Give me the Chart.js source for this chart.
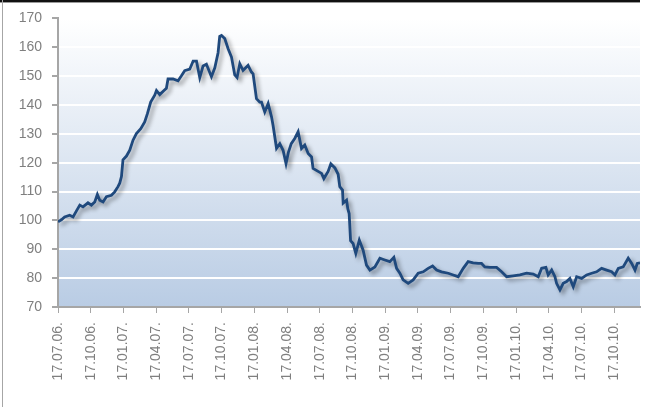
<!DOCTYPE html>
<html>
<head>
<meta charset="utf-8">
<script src="https://cdn.jsdelivr.net/npm/chart.js@4"></script>
<style>
html,body{margin:0;padding:0;background:#fff;}
#wrap{width:646px;height:407px;position:relative;}
</style>
</head>
<body>
<div id="wrap"><canvas id="c" width="646" height="407"></canvas></div>
<script>
// Tick labels (quarterly, starting 17.07.06)
const tickLabels = ["17.07.06.","17.10.06.","17.01.07.","17.04.07.","17.07.07.","17.10.07.","17.01.08.","17.04.08.","17.07.08.","17.10.08.","17.01.09.","17.04.09.","17.07.09.","17.10.09.","17.01.10.","17.04.10.","17.07.10.","17.10.10."];
// time in months since 17.07.06
const months = [0,0.34,0.61,1.07,1.38,1.72,2.0,2.29,2.75,3.06,3.37,3.61,3.83,4.13,4.44,4.9,5.2,5.5,5.66,5.82,5.96,6.28,6.58,6.88,7.19,7.59,7.95,8.2,8.5,8.87,9.03,9.33,9.72,9.94,10.09,10.55,11.01,11.32,11.62,12.08,12.39,12.7,13.0,13.3,13.61,14.07,14.38,14.68,14.83,14.99,15.29,15.6,15.91,16.21,16.42,16.67,16.97,17.43,17.74,17.89,18.2,18.5,18.66,18.96,19.27,19.58,19.72,20.04,20.34,20.64,20.91,21.12,21.39,21.71,22.02,22.33,22.63,22.94,23.25,23.39,23.85,24.17,24.38,24.77,25.02,25.39,25.69,25.84,26.09,26.15,26.46,26.58,26.7,26.83,27.06,27.31,27.63,27.98,28.29,28.6,29.06,29.52,29.97,30.43,30.8,31.05,31.35,31.65,32.11,32.57,33.03,33.49,33.94,34.35,34.72,35.17,35.78,36.24,36.7,37.16,37.61,38.07,38.53,38.84,39.14,39.6,40.22,40.68,41.14,41.74,42.36,42.97,43.58,44.04,44.35,44.74,44.95,45.27,45.57,45.72,46.03,46.33,46.64,46.94,47.25,47.56,48.02,48.48,48.94,49.39,49.85,50.31,50.77,51.07,51.38,51.83,52.29,52.61,52.91,53.12,53.37];
const values = [99.5,100.3,101.2,101.8,101.2,103.5,105.3,104.7,106.1,105.3,106.4,109,107,106.4,108.2,108.7,109.9,111.7,112.9,115.2,121,122.3,124.3,127.8,130.1,131.8,134.1,137,141,143.4,145,143.6,145,145.8,149,149,148.4,150.1,151.9,152.4,155.2,155.2,149.5,153.5,154.1,149.8,152.9,158.1,163.8,164.1,163,159.5,156.6,150.4,149.5,154.3,152,153.7,151.4,150.8,142.2,141,141,137.6,140.5,135.9,133,125,126.6,124.3,119.7,123.5,126.6,128.4,130.7,124.9,126.1,123.2,122,118,117,116.3,114.5,117,119.6,118.2,116,111.7,110.5,106,107,104,102.4,93,92,88.6,93.2,89.7,84.5,82.8,83.9,86.9,86.3,85.7,87.2,83.4,81.7,79.4,78.2,79.4,81.7,82.2,83.4,84.2,82.8,82.2,81.7,81.1,80.5,83.4,85.7,85.3,85.1,85.1,83.9,83.7,83.7,82.2,80.5,80.8,81.1,81.7,81.4,80.5,83.4,83.7,81.1,82.8,80.5,78.2,75.9,78.2,78.8,79.9,77,80.5,79.9,81.1,81.7,82.2,83.4,82.8,82.2,81.1,83.4,83.9,86.9,85.1,82.8,85.1,85.3];

const points = months.map((m,i)=>({x:m, y:values[i]}));

const bgPlugin = {
  id:'bg',
  beforeDraw(chart){
    const {ctx, chartArea:a} = chart;
    ctx.save();
    const g = ctx.createLinearGradient(0,a.top,0,a.bottom);
    g.addColorStop(0,'#ffffff');
    g.addColorStop(1,'#b9cce4');
    ctx.fillStyle = g;
    ctx.fillRect(a.left,a.top,a.right-a.left,a.bottom-a.top);
    ctx.restore();
  },
  afterDraw(chart){
    const ctx = chart.ctx;
    ctx.save();
    ctx.fillStyle = '#111';
    ctx.fillRect(0,0,640,2);
    ctx.fillStyle = '#9a9a9a';
    ctx.fillRect(0,2,640,1);
    ctx.fillStyle = '#a6a6a6';
    ctx.fillRect(2,0,1,407);
    ctx.restore();
  }
};
const shadowPlugin = {
  id:'shadow',
  beforeDatasetDraw(chart){
    const ctx = chart.ctx;
    ctx.save();
    ctx.shadowColor = 'rgba(0,0,0,0.38)';
    ctx.shadowBlur = 4;
    ctx.shadowOffsetX = 3;
    ctx.shadowOffsetY = 3;
  },
  afterDatasetDraw(chart){
    chart.ctx.restore();
  }
};

new Chart(document.getElementById('c'), {
  type:'line',
  data:{datasets:[{data:points, borderColor:'#1f497d', borderWidth:2.8, pointRadius:0, tension:0, fill:false}]},
  options:{
    responsive:false,
    animation:false,
    layout:{padding:{left:0,right:6,top:18,bottom:0}},
    plugins:{legend:{display:false}, tooltip:{enabled:false}},
    scales:{
      x:{
        type:'linear', min:0, max:53.37,
        afterFit(s){ s.height = 100; },
        grid:{drawOnChartArea:false, drawTicks:true, tickLength:6, color:'#a6a6a6', lineWidth:1},
        border:{display:true, color:'#a6a6a6', width:2},
        ticks:{stepSize:3, includeBounds:false, autoSkip:false, maxRotation:90, minRotation:90, padding:9,
          color:'#7f7f7f', font:{family:'Liberation Sans', size:14},
          callback:(v)=>{ const i=Math.round(v/3); return (Math.abs(v-i*3)<1e-6 && tickLabels[i])? tickLabels[i] : ''; }}
      },
      y:{
        min:70, max:170,
        afterFit(s){ s.width = 58; },
        grid:{color:'#ffffff', lineWidth:2, tickColor:'#a6a6a6', tickLength:6, drawTicks:true},
        border:{display:true, color:'#a6a6a6', width:2},
        ticks:{stepSize:10, padding:10, color:'#7f7f7f', font:{family:'Liberation Sans', size:14}}
      }
    }
  },
  plugins:[bgPlugin, shadowPlugin]
});
</script>
</body>
</html>
